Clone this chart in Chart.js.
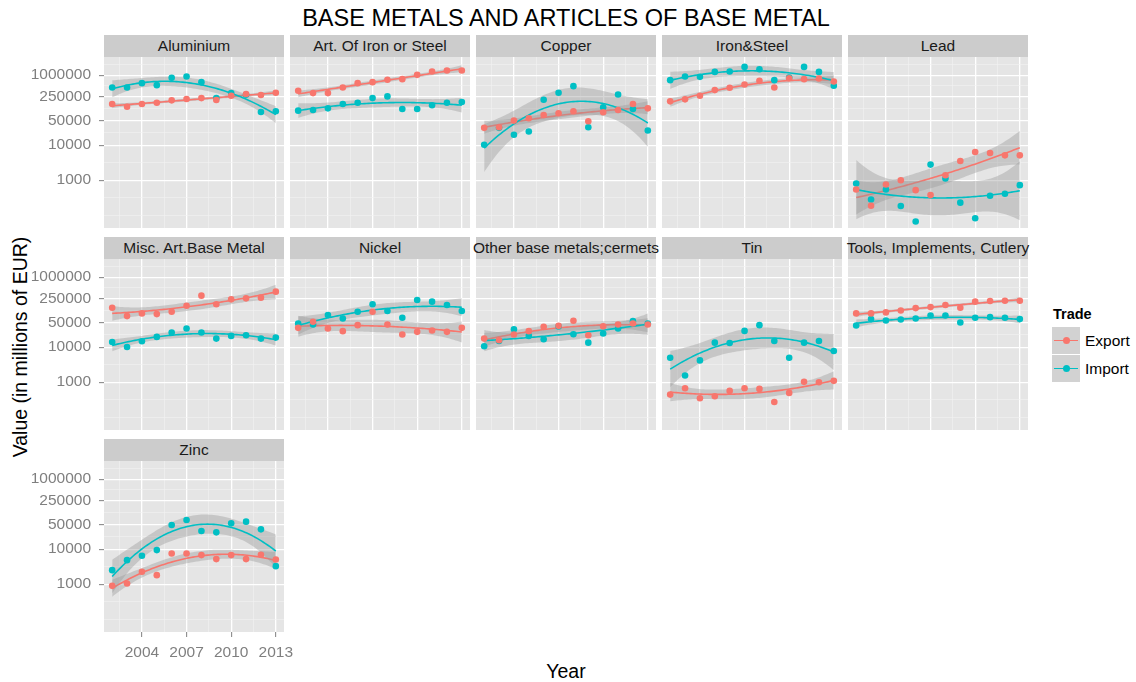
<!DOCTYPE html>
<html>
<head>
<meta charset="utf-8">
<script src="https://cdn.jsdelivr.net/npm/chart.js@4.4.1/dist/chart.umd.min.js"></script>
<style>
  html, body { margin: 0; padding: 0; background: #ffffff; }
  body { width: 1136px; height: 682px; position: relative; overflow: hidden;
         font-family: "Liberation Sans", Arial, Helvetica, sans-serif; }
  canvas { position: absolute; }
  .strip { position: absolute; background: #CCCCCC; color: #1A1A1A; font-size: 15.5px;
           display: flex; align-items: center; justify-content: center; white-space: nowrap; }
  .txt { position: absolute; white-space: nowrap; color: #000; }
  .key { position: absolute; width: 28px; height: 27px; background: #D2D2D2; }
  .key .ln { position: absolute; left: 2px; right: 2px; top: 12.5px; height: 1.8px; }
  .key .dt { position: absolute; left: 10.5px; top: 10px; width: 7px; height: 7px; border-radius: 50%; }
</style>
</head>
<body>
<script>
// ---- data -------------------------------------------------------------
const years = [2002, 2003, 2004, 2005, 2006, 2007, 2008, 2009, 2010, 2011, 2012, 2013];

const panelNames = ["Aluminium", "Art. Of Iron or Steel", "Copper", "Iron&Steel", "Lead",
  "Misc. Art.Base Metal", "Nickel", "Other base metals;cermets", "Tin",
  "Tools, Implements, Cutlery", "Zinc"];

const tradeNames = ["Export", "Import"];

const aluminiumExport = [150000, 126000, 150000, 164000, 191000, 208000, 222000, 195000, 259000, 289000, 271000, 315000];
const aluminiumImport = [447000, 447000, 593000, 520000, 840000, 916000, 632000, 222000, 308000, 276000, 89000, 93000];

const ironSteelArticlesExport = [359000, 308000, 308000, 447000, 593000, 632000, 738000, 770000, 1022000, 1270000, 1356000, 1356000];
const ironSteelArticlesImport = [97100, 101000, 113000, 150000, 164000, 222000, 248000, 108000, 108000, 138000, 164000, 171000];

const copperExport = [31300, 32700, 50500, 58900, 73200, 81600, 93000, 48400, 87100, 101000, 150000, 113000];
const copperImport = [10300, 31300, 19800, 24600, 199500, 315000, 487000, 32700, 120800, 282000, 108000, 26300];

const ironSteelExport = [179000, 204000, 259000, 375000, 437000, 543000, 690000, 447000, 822000, 770000, 804000, 661000];
const ironSteelImport = [721000, 916000, 897000, 1244000, 1270000, 1725000, 1481000, 721000, 859000, 1725000, 1244000, 498000];

const leadExport = [543, 187, 753, 1000, 520, 375, 1387, 3540, 6370, 5970, 5130, 5130];
const leadImport = [804, 282, 543, 183, 66, 2790, 1115, 228, 82, 360, 410, 721];

const miscExport = [134000, 77300, 92300, 88300, 103000, 153000, 297000, 168000, 233000, 249000, 260000, 387000];
const miscImport = [14100, 10100, 14800, 19700, 26200, 34200, 26200, 17600, 21000, 22000, 17600, 18800];

const nickelExport = [35700, 53100, 34200, 28700, 42600, 103000, 44500, 23000, 27400, 29900, 27400, 35700];
const nickelImport = [47600, 44500, 82700, 66300, 103000, 168000, 108000, 69200, 223000, 200000, 160000, 108000];

const otherExport = [17600, 15800, 23000, 28700, 38100, 40700, 56800, 22000, 39800, 44500, 47600, 44500];
const otherImport = [10600, 15100, 32700, 21000, 16900, 39000, 23500, 13500, 24500, 34200, 55500, 47600];

const tinExport = [442, 671, 347, 396, 564, 671, 643, 272, 494, 1023, 1000, 1092];
const tinImport = [5010, 1556, 4200, 13500, 13200, 29200, 42600, 15100, 5010, 13500, 15100, 7780];

const toolsExport = [92300, 92300, 98600, 112000, 131000, 140000, 160000, 134000, 200000, 209000, 213000, 213000];
const toolsImport = [41700, 63400, 58000, 62000, 66300, 80800, 80800, 50800, 69200, 72300, 69200, 63400];

const zincExport = [896, 1045, 2260, 1810, 7570, 7570, 6780, 5210, 6780, 5210, 6930, 5090];
const zincImport = [2520, 4870, 6490, 9430, 49100, 68200, 33000, 30300, 54800, 61200, 36900, 3280];

const yTickValues = [1000, 10000, 50000, 250000, 1000000];
const xTickYears = [2004, 2007, 2010, 2013];

const panelSeries = [
  [aluminiumExport, aluminiumImport],
  [ironSteelArticlesExport, ironSteelArticlesImport],
  [copperExport, copperImport],
  [ironSteelExport, ironSteelImport],
  [leadExport, leadImport],
  [miscExport, miscImport],
  [nickelExport, nickelImport],
  [otherExport, otherImport],
  [tinExport, tinImport],
  [toolsExport, toolsImport],
  [zincExport, zincImport]
];

// ---- layout & style ---------------------------------------------------
const FONT = '"Liberation Sans", Arial, Helvetica, sans-serif';
const COLORS = ["#F8766D", "#00BFC4"];
const BAND_FILL = "rgba(153,153,153,0.4)";
const PANEL_BG = "#E5E5E5";
const AXIS_GREY = "#7F7F7F";

const PANEL_LEFTS = [104, 290, 476, 662, 848];
const PANEL_W = 180;
const PLOT_TOPS = [57, 259, 461];
const PANEL_H = 171;
const STRIP_H = 22;
const Y_AXIS_W = 100;
const X_AXIS_H = 34;
const X_LABEL_ROOM = 24;

const X_MIN = 2001.45, X_MAX = 2013.55;
const Y_MIN = Math.pow(10, 1.634), Y_MAX = Math.pow(10, 6.52);

// minor grid: midpoints between the major breaks, extended one step beyond them
function logMinorBreaks(majors, lo, hi) {
  const l = majors.map(v => Math.log10(v));
  const ext = [l[0] - (l[1] - l[0]), ...l, l[l.length - 1] + (l[l.length - 1] - l[l.length - 2])];
  const out = [];
  for (let i = 0; i < ext.length; i++) {
    out.push(ext[i]);
    if (i < ext.length - 1) out.push((ext[i] + ext[i + 1]) / 2);
  }
  return out.map(v => Math.pow(10, v)).filter(v => v >= lo && v <= hi);
}
function linMinorBreaks(majors, lo, hi) {
  const step = majors[1] - majors[0];
  const ext = [majors[0] - step, ...majors, majors[majors.length - 1] + step];
  const out = [];
  for (let i = 0; i < ext.length; i++) {
    out.push(ext[i]);
    if (i < ext.length - 1) out.push((ext[i] + ext[i + 1]) / 2);
  }
  return out.filter(v => v >= lo && v <= hi);
}
const yGridValues = logMinorBreaks(yTickValues, Y_MIN, Y_MAX);
const xGridValues = linMinorBreaks(xTickYears, X_MIN, X_MAX);
const isMajorY = v => yTickValues.some(t => Math.abs(Math.log10(t) - Math.log10(v)) < 1e-6);
const isMajorX = v => xTickYears.some(t => Math.abs(t - v) < 1e-6);

// ---- quadratic trend (least squares on log10 values) with 95% band -----
function tQuantile975(df) {
  const z = 1.959964;
  const g1 = (z ** 3 + z) / 4;
  const g2 = (5 * z ** 5 + 16 * z ** 3 + 3 * z) / 96;
  const g3 = (3 * z ** 7 + 19 * z ** 5 + 17 * z ** 3 - 15 * z) / 384;
  const g4 = (79 * z ** 9 + 776 * z ** 7 + 1482 * z ** 5 - 1920 * z ** 3 - 945 * z) / 92160;
  return z + g1 / df + g2 / df ** 2 + g3 / df ** 3 + g4 / df ** 4;
}

function invert3(m) {
  const [a, b, c] = m[0], [d, e, f] = m[1], [g, h, k] = m[2];
  const A = e * k - f * h, B = -(d * k - f * g), C = d * h - e * g;
  const D = -(b * k - c * h), E = a * k - c * g, F = -(a * h - b * g);
  const G = b * f - c * e, H = -(a * f - c * d), K = a * e - b * d;
  const det = a * A + b * B + c * C;
  return [[A / det, D / det, G / det], [B / det, E / det, H / det], [C / det, F / det, K / det]];
}

function quadraticBand(xs, values, steps = 80) {
  const n = xs.length;
  const xm = xs.reduce((s, x) => s + x, 0) / n;
  const ys = values.map(v => Math.log10(v));
  const basis = x => { const t = x - xm; return [1, t, t * t]; };
  const XtX = [[0, 0, 0], [0, 0, 0], [0, 0, 0]], Xty = [0, 0, 0];
  xs.forEach((x, i) => {
    const b = basis(x);
    for (let r = 0; r < 3; r++) {
      Xty[r] += b[r] * ys[i];
      for (let c = 0; c < 3; c++) XtX[r][c] += b[r] * b[c];
    }
  });
  const inv = invert3(XtX);
  const coef = inv.map(row => row.reduce((s, v, j) => s + v * Xty[j], 0));
  const predict = x => basis(x).reduce((s, v, j) => s + v * coef[j], 0);
  const rss = xs.reduce((s, x, i) => s + (ys[i] - predict(x)) ** 2, 0);
  const df = n - 3;
  const sigma = Math.sqrt(rss / df);
  const tq = tQuantile975(df);
  const line = [], lo = [], hi = [];
  for (let s = 0; s < steps; s++) {
    const x0 = xs[0] + (xs[n - 1] - xs[0]) * s / (steps - 1);
    const b = basis(x0);
    let lev = 0;
    for (let r = 0; r < 3; r++) for (let c = 0; c < 3; c++) lev += b[r] * inv[r][c] * b[c];
    const f = predict(x0), se = sigma * Math.sqrt(lev);
    line.push({ x: x0, y: Math.pow(10, f) });
    lo.push({ x: x0, y: Math.pow(10, f - tq * se) });
    hi.push({ x: x0, y: Math.pow(10, f + tq * se) });
  }
  return { line, lo, hi };
}

// ---- page furniture -----------------------------------------------------
function addText(text, css) {
  const el = document.createElement("div");
  el.className = "txt";
  el.textContent = text;
  Object.assign(el.style, css);
  document.body.appendChild(el);
  return el;
}

addText("BASE METALS AND ARTICLES OF BASE METAL",
  { left: "566px", top: "18px", fontSize: "23.5px", transform: "translate(-50%,-50%)" });
addText("Year", { left: "566px", top: "671px", fontSize: "19.5px", transform: "translate(-50%,-50%)" });
addText("Value (in millions of EUR)",
  { left: "20px", top: "347px", fontSize: "19.5px", transform: "translate(-50%,-50%) rotate(-90deg)" });

// legend
addText("Trade", { left: "1053px", top: "314px", fontSize: "14.5px", fontWeight: "bold", transform: "translateY(-50%)" });
tradeNames.forEach((name, i) => {
  const top = 327 + i * 28;
  const key = document.createElement("div");
  key.className = "key";
  key.style.left = "1052px";
  key.style.top = top + "px";
  key.innerHTML = '<div class="ln" style="background:' + COLORS[i] + '"></div><div class="dt" style="background:' + COLORS[i] + '"></div>';
  document.body.appendChild(key);
  addText(name, { left: "1085px", top: (top + 14) + "px", fontSize: "15.5px", color: "#000", transform: "translateY(-50%)" });
});

// ---- panels -------------------------------------------------------------
Chart.defaults.font.family = FONT;

const panelBackground = {
  id: "panelBackground",
  beforeDraw(chart) {
    const { ctx, chartArea: a } = chart;
    ctx.save();
    ctx.fillStyle = PANEL_BG;
    ctx.fillRect(a.left, a.top, a.right - a.left, a.bottom - a.top);
    ctx.restore();
  }
};

const noScalePadding = s => { s.paddingTop = 0; s.paddingBottom = 0; s.paddingLeft = 0; s.paddingRight = 0; };

panelNames.forEach((name, idx) => {
  const col = idx % 5, row = Math.floor(idx / 5);
  const left = PANEL_LEFTS[col], top = PLOT_TOPS[row];
  const showY = col === 0;
  const showX = idx === panelNames.length - 1;

  const strip = document.createElement("div");
  strip.className = "strip";
  strip.textContent = name;
  Object.assign(strip.style, { left: left + "px", top: (top - STRIP_H) + "px", width: PANEL_W + "px", height: STRIP_H + "px" });
  document.body.appendChild(strip);

  const yw = showY ? Y_AXIS_W : 0;
  const xh = showX ? X_AXIS_H : 0;
  const extraRight = showX ? X_LABEL_ROOM : 0;
  const canvas = document.createElement("canvas");
  const cw = PANEL_W + yw + extraRight, chh = PANEL_H + xh;
  canvas.width = cw;
  canvas.height = chh;
  Object.assign(canvas.style, { left: (left - yw) + "px", top: top + "px", width: cw + "px", height: chh + "px" });
  document.body.appendChild(canvas);

  const [exp, imp] = panelSeries[idx];
  const bands = [exp, imp].map(v => quadraticBand(years, v));
  const pts = v => years.map((y, i) => ({ x: y, y: v[i] }));

  const datasets = [
    { label: "Export", data: pts(exp), showLine: false, pointRadius: 3.3, pointBackgroundColor: COLORS[0], pointBorderWidth: 0, borderColor: COLORS[0], order: 1 },
    { label: "Import", data: pts(imp), showLine: false, pointRadius: 3.3, pointBackgroundColor: COLORS[1], pointBorderWidth: 0, borderColor: COLORS[1], order: 2 },
    { label: "Export fit", data: bands[0].line, borderColor: COLORS[0], borderWidth: 1.6, pointRadius: 0, fill: false, order: 7 },
    { label: "Import fit", data: bands[1].line, borderColor: COLORS[1], borderWidth: 1.6, pointRadius: 0, fill: false, order: 5 },
    { label: "Export low", data: bands[0].lo, borderColor: "transparent", borderWidth: 0, pointRadius: 0, fill: false, order: 10 },
    { label: "Export high", data: bands[0].hi, borderColor: "transparent", borderWidth: 0, pointRadius: 0, fill: "-1", backgroundColor: BAND_FILL, order: 8 },
    { label: "Import low", data: bands[1].lo, borderColor: "transparent", borderWidth: 0, pointRadius: 0, fill: false, order: 9 },
    { label: "Import high", data: bands[1].hi, borderColor: "transparent", borderWidth: 0, pointRadius: 0, fill: "-1", backgroundColor: BAND_FILL, order: 6 }
  ];

  new Chart(canvas, {
    type: "line",
    data: { datasets },
    plugins: [panelBackground],
    options: {
      responsive: false,
      animation: false,
      events: [],
      layout: { padding: { left: 0, top: 0, bottom: 0, right: extraRight }, autoPadding: false },
      elements: { line: { tension: 0 } },
      plugins: { legend: { display: false }, tooltip: { enabled: false }, filler: { propagate: false } },
      scales: {
        x: {
          type: "linear", position: "bottom", min: X_MIN, max: X_MAX, bounds: "data",
          afterBuildTicks: s => { s.ticks = xGridValues.map(v => ({ value: v })); },
          afterFit: s => { s.height = xh; noScalePadding(s); },
          border: { display: false },
          grid: {
            color: c => isMajorX(c.tick.value) ? "#FFFFFF" : "#F2F2F2",
            lineWidth: c => isMajorX(c.tick.value) ? 1.3 : 0.6,
            drawTicks: showX, tickLength: 5, tickWidth: 1,
            tickColor: c => isMajorX(c.tick.value) ? AXIS_GREY : "rgba(0,0,0,0)"
          },
          ticks: {
            display: showX, autoSkip: false, maxRotation: 0, minRotation: 0, padding: 6,
            color: AXIS_GREY, font: { size: 15.5 },
            callback: v => isMajorX(v) ? String(v) : ""
          }
        },
        y: {
          type: "logarithmic", position: "left", min: Y_MIN, max: Y_MAX, bounds: "data",
          afterBuildTicks: s => { s.ticks = yGridValues.map(v => ({ value: v })); },
          afterFit: s => { s.width = yw; noScalePadding(s); },
          border: { display: false },
          grid: {
            color: c => isMajorY(c.tick.value) ? "#FFFFFF" : "#F2F2F2",
            lineWidth: c => isMajorY(c.tick.value) ? 1.3 : 0.6,
            drawTicks: showY, tickLength: 5, tickWidth: 1,
            tickColor: c => isMajorY(c.tick.value) ? AXIS_GREY : "rgba(0,0,0,0)"
          },
          ticks: {
            display: showY, autoSkip: false, padding: 8,
            color: AXIS_GREY, font: { size: 15.5 },
            callback: v => isMajorY(v) ? String(Math.round(v)) : ""
          }
        }
      }
    }
  });
});
</script>
</body>
</html>
